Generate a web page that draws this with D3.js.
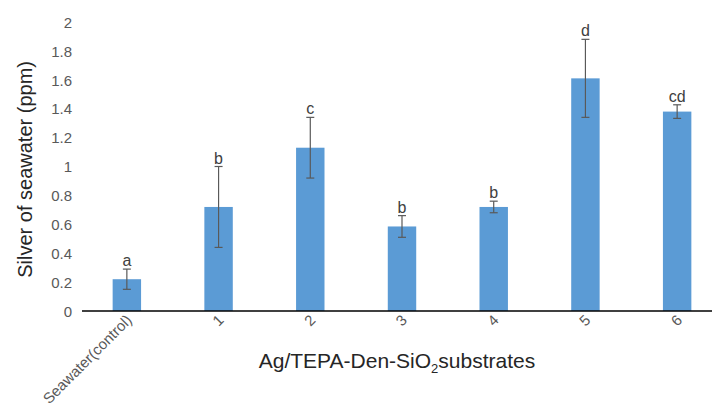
<!DOCTYPE html>
<html lang="en">
<head>
<meta charset="utf-8">
<title>Silver of seawater</title>
<style>
  body { margin:0; background:white; }
  svg { display:block; font-family:"Liberation Sans", Arial, sans-serif; }
  .ytick text { font-size:15px; fill:#595959; }
  .xtick text { font-size:15px; fill:#595959; }
  .letter { font-size:16px; fill:#404040; }
  .title { fill:#262626; }
</style>
</head>
<body>
<svg class="chart"></svg>
<script src="https://cdnjs.cloudflare.com/ajax/libs/d3/7.8.5/d3.min.js"></script>
<script>
// chart data
var categories = ["Seawater(control)", "1", "2", "3", "4", "5", "6"];
var values = [0.22, 0.72, 1.13, 0.585, 0.72, 1.61, 1.38];
var errors = [0.07, 0.28, 0.21, 0.075, 0.04, 0.27, 0.047];
var letters = ["a", "b", "c", "b", "b", "d", "cd"];
var yTicks = [0, 0.2, 0.4, 0.6, 0.8, 1, 1.2, 1.4, 1.6, 1.8, 2];

var W = 712, H = 414;
var svg = d3.select('.chart').attr('width', W).attr('height', H);

// plot area runs off the right edge like the original
var x = d3.scaleBand().domain(categories).range([81, 723]).paddingInner(0.69).paddingOuter(0.345);
var y = d3.scaleLinear().domain([0, 2]).range([311, 22]);

// y tick labels
var yAxis = svg.append('g')
    .attr('class', 'ytick')
    .attr('transform', 'translate(78,0)')
    .call(d3.axisLeft(y).tickValues(yTicks).tickFormat(d3.format('~g')).tickSize(0).tickPadding(6));
yAxis.select('.domain').remove();
yAxis.selectAll('text').attr('dy', '0.35em');

// bars
svg.selectAll('.bar')
    .data(values)
  .enter().append('rect')
    .attr('class', 'bar')
    .attr('x', function(d, i){ return x(categories[i]); })
    .attr('y', function(d){ return y(d); })
    .attr('width', x.bandwidth())
    .attr('height', function(d){ return y(0) - y(d); })
    .attr('fill', '#5b9bd5');

// error bars
var eb = svg.selectAll('.err')
    .data(values)
  .enter().append('g')
    .attr('class', 'err')
    .attr('stroke', '#595959')
    .attr('stroke-width', 1.2)
    .attr('transform', function(d, i){ return 'translate(' + (x(categories[i]) + x.bandwidth() / 2) + ',0)'; });
eb.append('line')
    .attr('y1', function(d, i){ return y(d + errors[i]); })
    .attr('y2', function(d, i){ return y(d - errors[i]); });
eb.append('line').attr('x1', -4).attr('x2', 4)
    .attr('y1', function(d, i){ return y(d + errors[i]); })
    .attr('y2', function(d, i){ return y(d + errors[i]); });
eb.append('line').attr('x1', -4).attr('x2', 4)
    .attr('y1', function(d, i){ return y(d - errors[i]); })
    .attr('y2', function(d, i){ return y(d - errors[i]); });

// significance letters
svg.selectAll('.letter')
    .data(letters)
  .enter().append('text')
    .attr('class', 'letter')
    .attr('text-anchor', 'middle')
    .attr('x', function(d, i){ return x(categories[i]) + x.bandwidth() / 2; })
    .attr('y', function(d, i){ return y(values[i] + errors[i]) - 3; })
    .text(function(d){ return d; });

// x axis
var xAxis = svg.append('g')
    .attr('class', 'xtick')
    .attr('transform', 'translate(0,' + y(0) + ')')
    .call(d3.axisBottom(x).tickSize(0).tickPadding(0));
xAxis.select('.domain').attr('stroke', '#000').attr('stroke-width', 1.5).attr('d', 'M82,0H712');
xAxis.selectAll('text')
    .attr('text-anchor', 'end')
    .attr('dy', null)
    .attr('transform', 'translate(6,10) rotate(-45)');

// axis titles
svg.append('text')
    .attr('class', 'title')
    .attr('font-size', '20px')
    .attr('text-anchor', 'middle')
    .attr('transform', 'translate(32,' + y(0.98) + ') rotate(-90)')
    .text('Silver of seawater (ppm)');

var xt = svg.append('text')
    .attr('class', 'title')
    .attr('font-size', '21px')
    .attr('text-anchor', 'middle')
    .attr('x', 397)
    .attr('y', 368);
xt.append('tspan').text('Ag/TEPA-Den-SiO');
xt.append('tspan').attr('font-size', '13px').attr('dy', 5).text('2');
xt.append('tspan').attr('dy', -5).text('substrates');
</script>
</body>
</html>
